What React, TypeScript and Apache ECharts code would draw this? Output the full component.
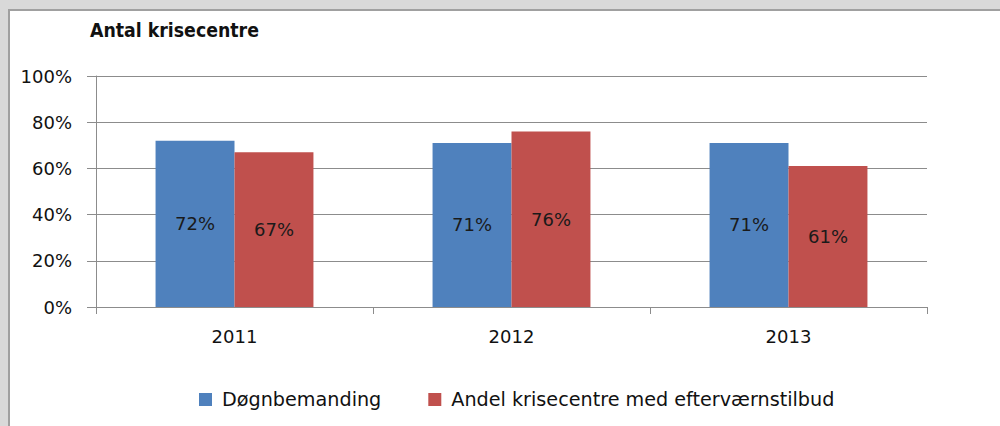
import React, { useEffect, useRef } from "react";
import * as echarts from "echarts";

const categories = ["2011", "2012", "2013"];
const seriesNames = ["Døgnbemanding", "Andel krisecentre med efterværnstilbud"];
const doegnbemanding = [72, 71, 71];
const efterværn = [67, 76, 61];
const yTicks = [0, 20, 40, 60, 80, 100];
const title = "Antal krisecentre";

const FONT = "'DejaVu Sans', sans-serif";

export default function App() {
  const ref = useRef<HTMLDivElement>(null);
  useEffect(() => {
    if (!ref.current) return;
    const chart = echarts.init(ref.current, null, { renderer: "svg" });
    const lineColor = "#8c8c8c";
    const labelStyle = {
      show: true,
      position: "inside",
      formatter: (p: any) => p.value + "%",
      color: "#1a1a1a",
      fontFamily: FONT,
      fontSize: 18,
    };
    chart.setOption({
      animation: false,
      title: {
        text: title,
        left: 85,
        top: 16,
        textStyle: {
          fontFamily: "'DejaVu Sans Condensed', 'DejaVu Sans', sans-serif",
          fontWeight: "bold",
          fontSize: 19.3,
          color: "#111",
        },
      },
      grid: { left: 96, right: 73, top: 76, bottom: 119, containLabel: false },
      legend: {
        left: 194,
        top: 385,
        itemWidth: 13,
        itemHeight: 13,
        itemGap: 47,
        icon: "rect",
        textStyle: {
          fontFamily: FONT,
          fontSize: 19.2,
          color: "#111",
          padding: [0, 0, 0, 5],
        },
        data: seriesNames,
      },
      xAxis: {
        type: "category",
        data: categories,
        axisLine: { show: true, lineStyle: { color: lineColor, width: 1 } },
        axisTick: { show: true, length: 7, lineStyle: { color: lineColor } },
        axisLabel: { margin: 20, fontFamily: FONT, fontSize: 18, color: "#111" },
      },
      yAxis: {
        type: "value",
        min: yTicks[0],
        max: yTicks[yTicks.length - 1],
        interval: yTicks[1] - yTicks[0],
        axisLine: { show: true, lineStyle: { color: lineColor, width: 1 } },
        axisTick: { show: true, length: 9, lineStyle: { color: lineColor } },
        splitLine: { show: true, lineStyle: { color: lineColor, width: 1 } },
        axisLabel: {
          margin: 24,
          formatter: (v: number) => v + "%",
          fontFamily: FONT,
          fontSize: 18,
          color: "#111",
        },
      },
      series: [
        {
          name: seriesNames[0],
          type: "bar",
          data: doegnbemanding,
          itemStyle: { color: "#4F81BD" },
          barGap: "0%",
          barCategoryGap: "43%",
          label: labelStyle,
        },
        {
          name: seriesNames[1],
          type: "bar",
          data: efterværn,
          itemStyle: { color: "#C0504D" },
          barGap: "0%",
          barCategoryGap: "43%",
          label: labelStyle,
        },
      ],
    });
    return () => chart.dispose();
  }, []);

  return (
    <div style={{ position: "fixed", left: 0, top: 0, width: 1000, height: 426, background: "#d9d9d9" }}>
      <div
        style={{
          position: "absolute",
          left: 8,
          top: 9,
          width: 992,
          height: 417,
          background: "#fff",
          borderLeft: "2px solid #a0a0a0",
          borderTop: "2px solid #a0a0a0",
          boxSizing: "border-box",
        }}
      />
      <div ref={ref} style={{ position: "absolute", left: 0, top: 0, width: 1000, height: 426 }} />
    </div>
  );
}
